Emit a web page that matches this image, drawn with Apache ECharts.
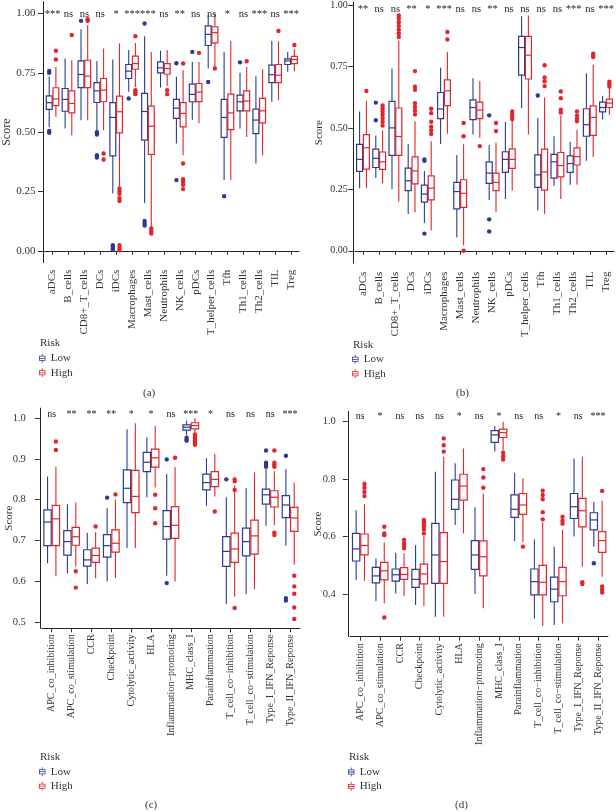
<!DOCTYPE html>
<html>
<head>
<meta charset="utf-8">
<script src="https://cdn.jsdelivr.net/npm/echarts@6/dist/echarts.min.js"></script>
<style>html,body{margin:0;padding:0;background:#fff;}#c{width:616px;height:812px;}</style>
</head>
<body>
<div id="c"></div>
<script>
// ---------- data ----------
const catsAB = ['aDCs','B_cells','CD8+_T_cells','DCs','iDCs','Macrophages','Mast_cells','Neutrophils','NK_cells','pDCs','T_helper_cells','Tfh','Th1_cells','Th2_cells','TIL','Treg'];
const catsCD = ['APC_co_inhibition','APC_co_stimulation','CCR','Checkpoint','Cytolytic_activity','HLA','Inflammation\u2212promoting','MHC_class_I','Parainflammation','T_cell_co\u2212inhibition','T_cell_co\u2212stimulation','Type_I_IFN_Reponse','Type_II_IFN_Reponse'];
const groups = ['Low','High'];
const ticksAB = [0, 0.25, 0.5, 0.75, 1.0];
const ticksC = [0.5, 0.6, 0.7, 0.8, 0.9, 1.0];
const ticksD = [0.4, 0.6, 0.8, 1.0];

const sigA = ['***','ns','ns','ns','*','***','***','ns','**','ns','ns','*','ns','***','ns','***'];
const sigB = ['**','ns','ns','**','*','***','ns','ns','**','ns','ns','ns','ns','***','ns','***'];
const sigC = ['ns','**','**','**','*','*','ns','***','*','ns','ns','ns','***'];
const sigD = ['ns','*','ns','ns','ns','*','ns','*','ns','ns','*','ns','***'];

// [min, Q1, median, Q3, max]
const lowA = [
 [0.522,0.596,0.624,0.653,0.736],[0.515,0.588,0.638,0.684,0.81],[0.55,0.688,0.743,0.80,0.934],[0.508,0.625,0.674,0.709,0.80],
 [0.242,0.40,0.562,0.624,0.806],[0.67,0.726,0.757,0.785,0.846],[0.202,0.466,0.587,0.663,0.904],[0.688,0.75,0.771,0.796,0.843],
 [0.452,0.558,0.601,0.638,0.733],[0.551,0.628,0.659,0.702,0.796],[0.768,0.865,0.912,0.948,0.993],[0.298,0.478,0.562,0.638,0.838],
 [0.515,0.59,0.628,0.656,0.75],[0.368,0.494,0.551,0.597,0.736],[0.628,0.709,0.742,0.782,0.885],[0.754,0.785,0.80,0.809,0.838]];
const highA = [
 [0.565,0.612,0.640,0.687,0.775],[0.487,0.581,0.621,0.674,0.803],[0.55,0.688,0.736,0.803,0.95],[0.508,0.628,0.677,0.726,0.852],
 [0.27,0.497,0.586,0.652,0.874],[0.69,0.765,0.789,0.82,0.876],[0.10,0.406,0.525,0.61,0.838],[0.694,0.744,0.768,0.789,0.846],
 [0.403,0.522,0.579,0.624,0.761],[0.537,0.629,0.669,0.705,0.796],[0.775,0.876,0.919,0.944,1.0],[0.298,0.511,0.581,0.66,0.885],
 [0.48,0.59,0.631,0.674,0.775],[0.403,0.539,0.59,0.642,0.765],[0.635,0.709,0.74,0.785,0.883],[0.757,0.789,0.806,0.819,0.85]];
const lowOutA = [[0,0.758],[0,0.75],[0,0.505],[0,0.497],[2,0.969],[3,0.50],[3,0.49],[3,0.403],[3,0.393],[4,0.024],[4,0.017],[4,0.01],[4,0.005],
 [5,0.642],[6,0.958],[6,0.126],[6,0.115],[6,0.107],[8,0.79],[8,0.298],[9,0.838],[10,0.711],[11,0.23],[12,0.794]];
const highOutA = [[0,0.843],[0,0.806],[1,0.909],[2,0.976],[2,0.969],[3,0.41],[3,0.385],[4,0.263],[4,0.25],[4,0.24],[4,0.222],[4,0.21],
 [4,0.024],[4,0.012],[4,0.002],[5,0.904],[5,0.677],[5,0.668],[5,0.66],[6,0.094],[6,0.083],[6,0.073],[7,0.677],[7,0.66],
 [8,0.789],[8,0.368],[8,0.302],[8,0.29],[8,0.278],[8,0.26],[9,0.834],[10,0.768],[12,0.799],[14,0.926],[15,0.867]];

const lowB = [
 [0.255,0.323,0.372,0.433,0.567],[0.296,0.339,0.376,0.414,0.469],[0.251,0.388,0.50,0.608,0.742],[0.15,0.245,0.285,0.336,0.435],
 [0.113,0.198,0.231,0.267,0.325],[0.435,0.538,0.577,0.644,0.745],[0.054,0.171,0.241,0.278,0.39],[0.473,0.534,0.583,0.614,0.702],
 [0.207,0.274,0.316,0.362,0.43],[0.211,0.319,0.372,0.403,0.524],[0.581,0.715,0.827,0.872,0.954],[0.164,0.258,0.309,0.39,0.54],
 [0.265,0.296,0.362,0.392,0.466],[0.269,0.319,0.355,0.386,0.444],[0.366,0.466,0.513,0.578,0.722],[0.534,0.565,0.583,0.605,0.63]];
const highB = [
 [0.255,0.332,0.419,0.473,0.61],[0.274,0.331,0.362,0.402,0.49],[0.20,0.388,0.465,0.581,0.856],[0.157,0.272,0.325,0.382,0.527],
 [0.083,0.207,0.255,0.305,0.446],[0.476,0.591,0.651,0.695,0.809],[0.023,0.177,0.234,0.289,0.433],[0.46,0.538,0.573,0.605,0.691],
 [0.157,0.245,0.278,0.316,0.44],[0.245,0.335,0.372,0.415,0.527],[0.473,0.699,0.796,0.872,0.957],[0.15,0.247,0.321,0.414,0.624],
 [0.211,0.301,0.347,0.40,0.55],[0.269,0.349,0.383,0.419,0.493],[0.382,0.47,0.543,0.59,0.758],[0.554,0.583,0.601,0.617,0.661]];
const lowOutB = [[1,0.603],[1,0.531],[4,0.372],[4,0.366],[4,0.07],[8,0.551],[8,0.128],[8,0.079],[11,0.632]];
const highOutB = [[0,0.65],[1,0.591],[1,0.58],[1,0.567],[1,0.555],[1,0.54],[1,0.525],[1,0.51],
 [2,0.957],[2,0.945],[2,0.93],[2,0.915],[2,0.9],[2,0.885],[2,0.87],
 [3,0.731],[3,0.668],[3,0.655],[3,0.60],[3,0.585],[3,0.57],[3,0.555],
 [4,0.578],[4,0.56],[4,0.525],[4,0.505],[4,0.49],[4,0.475],[5,0.89],[5,0.86],[6,0.52],[6,0.466],[6,0.0],[7,0.426],
 [8,0.52],[8,0.487],[9,0.567],[9,0.555],[9,0.545],[9,0.535],[11,0.755],[11,0.705],[11,0.69],[11,0.67],
 [12,0.648],[12,0.621],[12,0.574],[12,0.562],[13,0.567],[13,0.55],[13,0.537],[13,0.527],[14,0.802],[14,0.795],[14,0.788],
 [15,0.688],[15,0.678],[15,0.668]];

const lowC = [
 [0.644,0.687,0.745,0.775,0.857],[0.619,0.664,0.697,0.724,0.789],[0.593,0.637,0.652,0.677,0.719],[0.599,0.659,0.687,0.714,0.779],
 [0.681,0.793,0.828,0.873,0.973],[0.806,0.869,0.892,0.916,0.953],[0.613,0.703,0.734,0.773,0.863],[0.958,0.971,0.978,0.984,0.994],
 [0.785,0.824,0.842,0.863,0.902],[0.544,0.636,0.673,0.709,0.806],[0.568,0.662,0.697,0.73,0.828],[0.736,0.789,0.812,0.826,0.875],
 [0.687,0.756,0.787,0.81,0.875]];
const highC = [
 [0.612,0.687,0.753,0.786,0.881],[0.636,0.688,0.709,0.732,0.793],[0.607,0.646,0.663,0.681,0.72],[0.607,0.671,0.693,0.726,0.80],
 [0.681,0.768,0.808,0.872,0.988],[0.83,0.88,0.903,0.924,0.981],[0.599,0.705,0.737,0.783,0.88],[0.965,0.974,0.982,0.989,1.0],
 [0.808,0.832,0.85,0.869,0.912],[0.562,0.646,0.679,0.718,0.835],[0.58,0.666,0.711,0.75,0.867],[0.738,0.782,0.806,0.822,0.87],
 [0.64,0.722,0.755,0.781,0.842]];
const lowOutC = [[3,0.805],[6,0.899],[6,0.595],[7,0.952],[7,0.948],[7,0.945],[9,0.85],[11,0.921],[11,0.891],[11,0.886],[11,0.881],
 [12,0.908],[12,0.558],[12,0.552]];
const highOutC = [[0,0.943],[0,0.922],[1,0.624],[1,0.584],[2,0.734],[3,0.813],[5,0.812],[5,0.779],[5,0.742],[6,0.903],
 [7,0.96],[7,0.955],[7,0.95],[7,0.945],[7,0.94],[7,0.935],[8,0.771],[9,0.85],[9,0.845],[9,0.824],[9,0.534],
 [11,0.921],[11,0.891],[11,0.886],[11,0.881],[11,0.719],[11,0.713],[12,0.613],[12,0.587],[12,0.569],[12,0.535],[12,0.507]];

const lowD = [
 [0.449,0.515,0.557,0.611,0.692],[0.376,0.439,0.463,0.493,0.524],[0.402,0.445,0.467,0.487,0.544],[0.362,0.423,0.451,0.486,0.57],
 [0.321,0.437,0.536,0.646,0.826],[0.64,0.695,0.73,0.797,0.855],[0.40,0.486,0.536,0.586,0.702],[0.896,0.928,0.954,0.969,0.985],
 [0.585,0.667,0.695,0.745,0.822],[0.315,0.397,0.443,0.487,0.59],[0.292,0.373,0.417,0.459,0.565],[0.60,0.663,0.704,0.75,0.872],
 [0.565,0.623,0.658,0.683,0.721]];
const highD = [
 [0.446,0.536,0.569,0.609,0.713],[0.368,0.449,0.481,0.51,0.579],[0.393,0.451,0.468,0.492,0.542],[0.358,0.435,0.47,0.504,0.602],
 [0.321,0.437,0.513,0.614,0.878],[0.611,0.727,0.776,0.817,0.907],[0.35,0.463,0.53,0.585,0.75],[0.901,0.945,0.962,0.974,1.0],
 [0.58,0.677,0.71,0.75,0.803],[0.289,0.397,0.441,0.50,0.65],[0.298,0.394,0.443,0.493,0.623],[0.495,0.634,0.69,0.733,0.878],
 [0.46,0.545,0.586,0.617,0.725]];
const lowOutD = [[12,0.507]];
const highOutD = [[0,0.783],[0,0.77],[0,0.755],[0,0.741],[1,0.634],[1,0.611],[1,0.605],[1,0.318],[2,0.588],[2,0.575],[2,0.565],[2,0.559],
 [3,0.658],[3,0.65],[3,0.642],[3,0.635],[3,0.625],[3,0.611],[4,0.942],[4,0.918],[4,0.896],[6,0.835],[6,0.806],[6,0.77],
 [7,0.892],[7,0.88],[7,0.868],[8,0.565],[9,0.76],[9,0.745],[9,0.73],[9,0.685],[9,0.66],[10,0.669],[10,0.655],[10,0.645],
 [11,0.441],[11,0.435],[12,0.759],[12,0.426],[12,0.415],[12,0.405]];

// ---------- styling / layout ----------
const FONT = 'Liberation Serif';
const COLORS = {Low:'#2b3b8f', High:'#e3242b'};
const TXT = '#333';

const panels = [
 {cats:catsAB, sig:sigA, sigY:0.997, low:lowA, high:highA, lowOut:lowOutA, highOut:highOutA, ticks:ticksAB, dec:2,
  grid:{left:41.2, top:1.6, width:257.8, height:261.1}, min:-0.05, max:1.05, yOff:1.6, xFont:11, yFont:11, yMargin:7.5, xMargin:7,
  nameGap:30, nameFont:12, sigFont:10.5},
 {cats:catsAB, sig:sigB, sigY:0.984, low:lowB, high:highB, lowOut:lowOutB, highOut:highOutB, ticks:ticksAB, dec:2,
  grid:{left:354.9, top:0, width:259.2, height:263.1}, min:-0.05, max:1.011, yOff:1.6, xFont:11, yFont:10, yMargin:5.5, xMargin:8.5,
  nameGap:29, nameFont:11, sigFont:10.5},
 {cats:catsCD, sig:sigC, sigY:1.009, low:lowC, high:highC, lowOut:lowOutC, highOut:highOutC, ticks:ticksC, dec:1,
  grid:{left:41.8, top:408.1, width:258.2, height:220.2}, min:0.484, max:1.025, yOff:2, xFont:10, yFont:10.5, yMargin:14, xMargin:6,
  nameGap:25, nameFont:11, sigFont:10},
 {cats:catsCD, sig:sigD, sigY:1.02, low:lowD, high:highD, lowOut:lowOutD, highOut:highOutD, ticks:ticksD, dec:1,
  grid:{left:350.4, top:411.5, width:257.5, height:225.2}, min:0.2513, max:1.0356, yOff:2.6, xFont:10, yFont:10.5, yMargin:12, xMargin:6.5,
  nameGap:24, nameFont:11, sigFont:10}
];
const legendPos = [{left:39, top:351.3, rt:338, lab:'(a)', lx:143, ly:388},
                   {left:352, top:352.3, rt:339.5, lab:'(b)', lx:456, ly:388},
                   {left:39, top:764.7, rt:751.5, lab:'(c)', lx:145, ly:799.5},
                   {left:348, top:765, rt:752, lab:'(d)', lx:455, ly:800}];

const OFF = 0.21, HW = 0.185;
function boxRender(sign, color) {
  return function (params, api) {
    const i = api.value(0);
    const band = api.size([1, 0])[0];
    const x = api.coord([i, api.value(3)])[0] + sign * band * OFF;
    const hw = band * HW;
    const y = k => api.coord([i, api.value(k)])[1];
    const yMin = y(1), yQ1 = y(2), yMed = y(3), yQ3 = y(4), yMax = y(5);
    const st = {stroke: color, lineWidth: 1.1, fill: null};
    return {type: 'group', children: [
      {type: 'line', shape: {x1: x, y1: yMax, x2: x, y2: yQ3}, style: st},
      {type: 'line', shape: {x1: x, y1: yQ1, x2: x, y2: yMin}, style: st},
      {type: 'rect', shape: {x: x - hw, y: yQ3, width: 2 * hw, height: yQ1 - yQ3}, style: {stroke: color, lineWidth: 1.2, fill: '#fff'}},
      {type: 'line', shape: {x1: x - hw, y1: yMed, x2: x + hw, y2: yMed}, style: {stroke: color, lineWidth: 1.2}}
    ]};
  };
}
function outRender(sign, color) {
  return function (params, api) {
    const band = api.size([1, 0])[0];
    const p = api.coord([api.value(0), api.value(1)]);
    return {type: 'circle', shape: {cx: p[0] + sign * band * OFF, cy: p[1], r: 2.2}, style: {fill: color, stroke: null}};
  };
}
function sigRender(labels, fs) {
  return function (params, api) {
    const p = api.coord([api.value(0), api.value(1)]);
    return {type: 'text', x: p[0], y: p[1], style: {text: labels[params.dataIndex], fontSize: fs, fontFamily: FONT, fill: '#222', align: 'center', verticalAlign: 'middle'}};
  };
}

const iconPath = 'path://M0 3L10 3L10 11L0 11Z M1.2 4.2L1.2 9.8L8.8 9.8L8.8 4.2Z M1 6.4L9 6.4L9 7.6L1 7.6Z M4.4 0L5.6 0L5.6 3L4.4 3Z M4.4 11L5.6 11L5.6 14L4.4 14Z';

const option = {animation: false, backgroundColor: '#fff', grid: [], xAxis: [], yAxis: [], series: [], legend: [], title: []};
panels.forEach((P, k) => {
  option.grid.push(Object.assign({containLabel: false}, P.grid));
  option.xAxis.push({type: 'category', gridIndex: k, data: P.cats, boundaryGap: true,
    axisLine: {show: true, lineStyle: {color: '#222', width: 1}},
    axisTick: {show: true, alignWithLabel: true, length: 4, lineStyle: {color: '#333'}},
    axisLabel: {interval: 0, rotate: 90, margin: P.xMargin, fontFamily: FONT, fontSize: P.xFont, color: TXT},
    splitLine: {show: false}});
  option.yAxis.push({type: 'value', gridIndex: k, min: P.min, max: P.max, offset: P.yOff,
    name: 'Score', nameLocation: 'middle', nameGap: P.nameGap, nameRotate: 90, nameMoveOverlap: false,
    nameTextStyle: {fontFamily: FONT, fontSize: P.nameFont, color: TXT},
    axisLine: {show: true, onZero: false, lineStyle: {color: '#222', width: 1}},
    axisTick: {show: true, length: 5, customValues: P.ticks, lineStyle: {color: '#333'}},
    axisLabel: {customValues: P.ticks, margin: P.yMargin, fontFamily: FONT, fontSize: P.yFont, color: TXT,
      formatter: v => Number(v).toFixed(P.dec)},
    splitLine: {show: false}});
  [['Low', P.low, -1], ['High', P.high, 1]].forEach(([g, box, sign]) => {
    option.series.push({type: 'custom', name: g, xAxisIndex: k, yAxisIndex: k,
      itemStyle: {color: COLORS[g]}, renderItem: boxRender(sign, COLORS[g]),
      encode: {x: 0, y: [1, 2, 3, 4, 5]}, data: box.map((d, i) => [i].concat(d))});
  });
  [['Low', P.lowOut, -1], ['High', P.highOut, 1]].forEach(([g, out, sign]) => {
    option.series.push({type: 'custom', name: g, xAxisIndex: k, yAxisIndex: k, z: 3,
      itemStyle: {color: COLORS[g]}, renderItem: outRender(sign, COLORS[g]),
      encode: {x: 0, y: 1}, data: out});
  });
  option.series.push({type: 'custom', name: 'sig', xAxisIndex: k, yAxisIndex: k, z: 4,
    renderItem: sigRender(P.sig, P.sigFont), encode: {x: 0, y: 1},
    data: P.sig.map((s, i) => [i, P.sigY])});
  const L = legendPos[k];
  option.legend.push({orient: 'vertical', left: L.left, top: L.top, padding: 0, itemGap: 0.5,
    itemWidth: 7, itemHeight: 9, selectedMode: false,
    textStyle: {fontFamily: FONT, fontSize: 11, color: TXT, lineHeight: 14},
    data: groups.map(g => ({name: g, icon: iconPath, itemStyle: {color: COLORS[g], borderWidth: 0}}))});
  option.title.push({text: 'Risk', left: L.left + 1, top: L.rt, padding: 0,
    textStyle: {fontFamily: FONT, fontSize: 11, fontWeight: 'normal', color: TXT}});
  option.title.push({text: L.lab, left: L.lx, top: L.ly, padding: 0,
    textStyle: {fontFamily: FONT, fontSize: 11, fontWeight: 'normal', color: TXT}});
});

const chart = echarts.init(document.getElementById('c'), null, {renderer: 'canvas'});
chart.setOption(option);
</script>
</body>
</html>
